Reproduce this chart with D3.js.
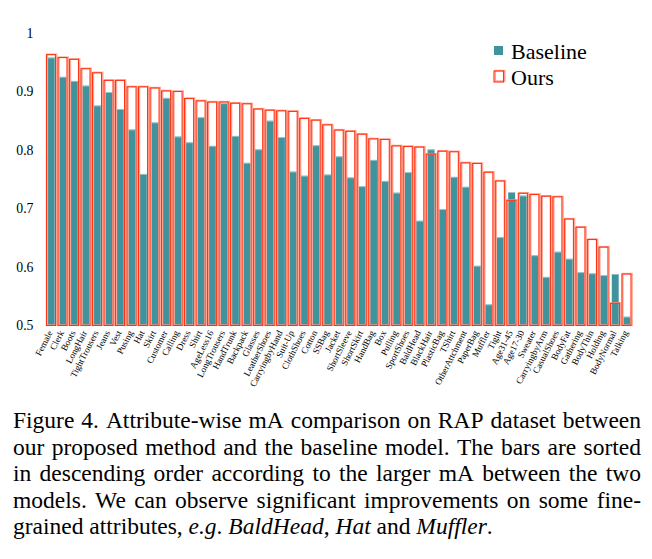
<!DOCTYPE html>
<html><head><meta charset="utf-8">
<script src="https://cdn.jsdelivr.net/npm/d3@7/dist/d3.min.js"></script>
<style>
html,body{margin:0;padding:0;background:#fff;}
svg{display:block;}
text{font-family:'Liberation Serif','Times New Roman',serif;fill:#000;}
</style></head><body>
<svg id="chart" width="652" height="559"></svg>
<script>
const categories = ["Female","Clerk","Boots","LongHair","TightTrousers","Jeans","Vest","Pusing","Hat","Skirt",
"Customer","Calling","Dress","Shirt","AgeLess16","LongTrousers","HandTrunk","Backpack","Glasses","LeatherShoes",
"CarryingbyHand","Suit-Up","ClothShoes","Cotton","SSBag","Jacket","ShortSleeve","ShortSkirt","HandBag","Box",
"Pulling","SportShoes","BaldHead","BlackHair","PlasticBag","TShirt","OtherAttchment","PaperBag","Muffler","Tight",
"Age31-45","Age17-30","Sweater","CarryingbyArm","CasualShoes","BodyFat","Gathering","BodyThin","Holding","BodyNormal","Talking"];
const baseline = [0.958,0.925,0.918,0.910,0.876,0.899,0.870,0.835,0.759,0.847,
0.889,0.823,0.813,0.856,0.807,0.880,0.824,0.778,0.801,0.850,
0.822,0.763,0.756,0.808,0.758,0.789,0.753,0.738,0.783,0.747,
0.727,0.762,0.679,0.801,0.699,0.754,0.737,0.602,0.536,0.651,
0.728,0.722,0.620,0.583,0.626,0.614,0.591,0.589,0.586,0.588,0.515];
const ours = [0.963,0.958,0.955,0.939,0.932,0.919,0.919,0.908,0.908,0.906,
0.901,0.900,0.888,0.884,0.882,0.882,0.880,0.879,0.870,0.868,
0.867,0.866,0.854,0.851,0.843,0.834,0.832,0.827,0.819,0.818,
0.807,0.806,0.805,0.793,0.798,0.797,0.778,0.777,0.762,0.747,
0.714,0.726,0.724,0.721,0.720,0.682,0.668,0.647,0.634,0.538,0.588];
const yTicks = [0.5,0.6,0.7,0.8,0.9,1];
const yTickLabels = ["0.5","0.6","0.7","0.8","0.9","1"];
const seriesNames = ["Baseline","Ours"];
const captionLines = [
 [{t:"Figure 4. Attribute-wise mA comparison on RAP dataset between"}],
 [{t:"our proposed method and the baseline model. The bars are sorted"}],
 [{t:"in descending order according to the larger mA between the two"}],
 [{t:"models.  We can observe significant improvements on some fine-"}],
 [{t:"grained attributes, "},{t:"e.g",i:true},{t:". "},{t:"BaldHead",i:true},{t:", "},{t:"Hat",i:true},{t:" and "},{t:"Muffler",i:true},{t:"."}]
];

const TEAL="#40939d", RED="#ff3414", SALMON="#ff9e8c";
const svg = d3.select("#chart");
const x = d3.scaleBand().domain(categories).range([45.5,632.5]).paddingInner(0).paddingOuter(0);
const y = d3.scaleLinear().domain([0.5,1]).range([325.5,33]);
const step = x.step();
const oursW = step*0.84, baseW = step*0.6;

// y tick labels
svg.append("g").selectAll("text").data(yTicks).join("text")
  .attr("x",33.5).attr("y",d=>y(d)).attr("dy","0.35em")
  .attr("text-anchor","end").attr("font-size","13.8px")
  .text((d,i)=>yTickLabels[i]);

const data = categories.map((c,i)=>({c, b:baseline[i], o:ours[i]}));

// baseline bars
const gb = svg.append("g");
gb.selectAll("rect").data(data).join("rect")
  .attr("x",d=>x(d.c)+(step-baseW)/2).attr("width",baseW)
  .attr("y",d=>y(d.b)).attr("height",d=>y(0.5)-y(d.b))
  .attr("fill",TEAL);
gb.selectAll("line").data(data).join("line")
  .attr("x1",d=>x(d.c)+(step-baseW)/2).attr("x2",d=>x(d.c)+(step+baseW)/2)
  .attr("y1",d=>y(d.b)+0.4).attr("y2",d=>y(d.b)+0.4)
  .attr("stroke","#a8d0d4").attr("stroke-width",0.8);

// ours outlined bars (halo + line)
const go = svg.append("g");
go.selectAll("rect.halo").data(data).join("rect").attr("class","halo")
  .attr("x",d=>x(d.c)+(step-oursW)/2+0.9).attr("width",oursW-0.4)
  .attr("y",d=>y(d.o)-0.4).attr("height",d=>y(0.5)-y(d.o))
  .attr("fill","none").attr("stroke",SALMON).attr("stroke-width",1.6).attr("opacity",0.9);
go.selectAll("rect.line").data(data).join("rect").attr("class","line")
  .attr("x",d=>x(d.c)+(step-oursW)/2).attr("width",oursW-0.6)
  .attr("y",d=>y(d.o)).attr("height",d=>y(0.5)-y(d.o))
  .attr("fill","none").attr("stroke",RED).attr("stroke-width",1.1);

// x labels
svg.append("g").selectAll("text").data(categories).join("text")
  .attr("transform",d=>`translate(${x(d)+step/2+1.5},332.5) rotate(-63)`)
  .attr("text-anchor","end").attr("font-size","9.2px")
  .text(d=>d);

// legend
const lg = svg.append("g");
lg.append("rect").attr("x",494).attr("y",46).attr("width",9).attr("height",9).attr("fill",TEAL);
lg.append("rect").attr("x",495.2).attr("y",70.6).attr("width",9.5).attr("height",10.5).attr("fill","none").attr("stroke",SALMON).attr("stroke-width",1.5);
lg.append("rect").attr("x",494).attr("y",71).attr("width",9.5).attr("height",11).attr("fill","none").attr("stroke",RED).attr("stroke-width",1.1);
lg.append("text").attr("x",511).attr("y",59).attr("font-size","22px").text(seriesNames[0]);
lg.append("text").attr("x",511).attr("y",85).attr("font-size","22px").text(seriesNames[1]);

// caption, justified
const capLeft=13, capRight=641, capSize=23.5, capY0=428, capDy=26.6;
const cg = svg.append("g");
captionLines.forEach((segs,li)=>{
  const yy = capY0 + li*capDy;
  if (li < captionLines.length-1) {
    const words = segs[0].t.split(/ +/);
    const widths = words.map(w=>{
      const t = cg.append("text").attr("font-size",capSize+"px").text(w);
      const wd = t.node().getComputedTextLength(); t.remove(); return wd;
    });
    const total = d3.sum(widths);
    const gap = Math.max(2.5,(capRight-capLeft-total)/(words.length-1));
    let cx = capLeft;
    words.forEach((w,k)=>{
      cg.append("text").attr("x",cx).attr("y",yy).attr("font-size",capSize+"px").text(w);
      cx += widths[k]+gap;
    });
  } else {
    const t = cg.append("text").attr("x",capLeft).attr("y",yy).attr("font-size",capSize+"px").attr("xml:space","preserve").style("white-space","pre");
    segs.forEach(s=>{ t.append("tspan").attr("font-style",s.i?"italic":"normal").text(s.t); });
  }
});
</script>
</body></html>
